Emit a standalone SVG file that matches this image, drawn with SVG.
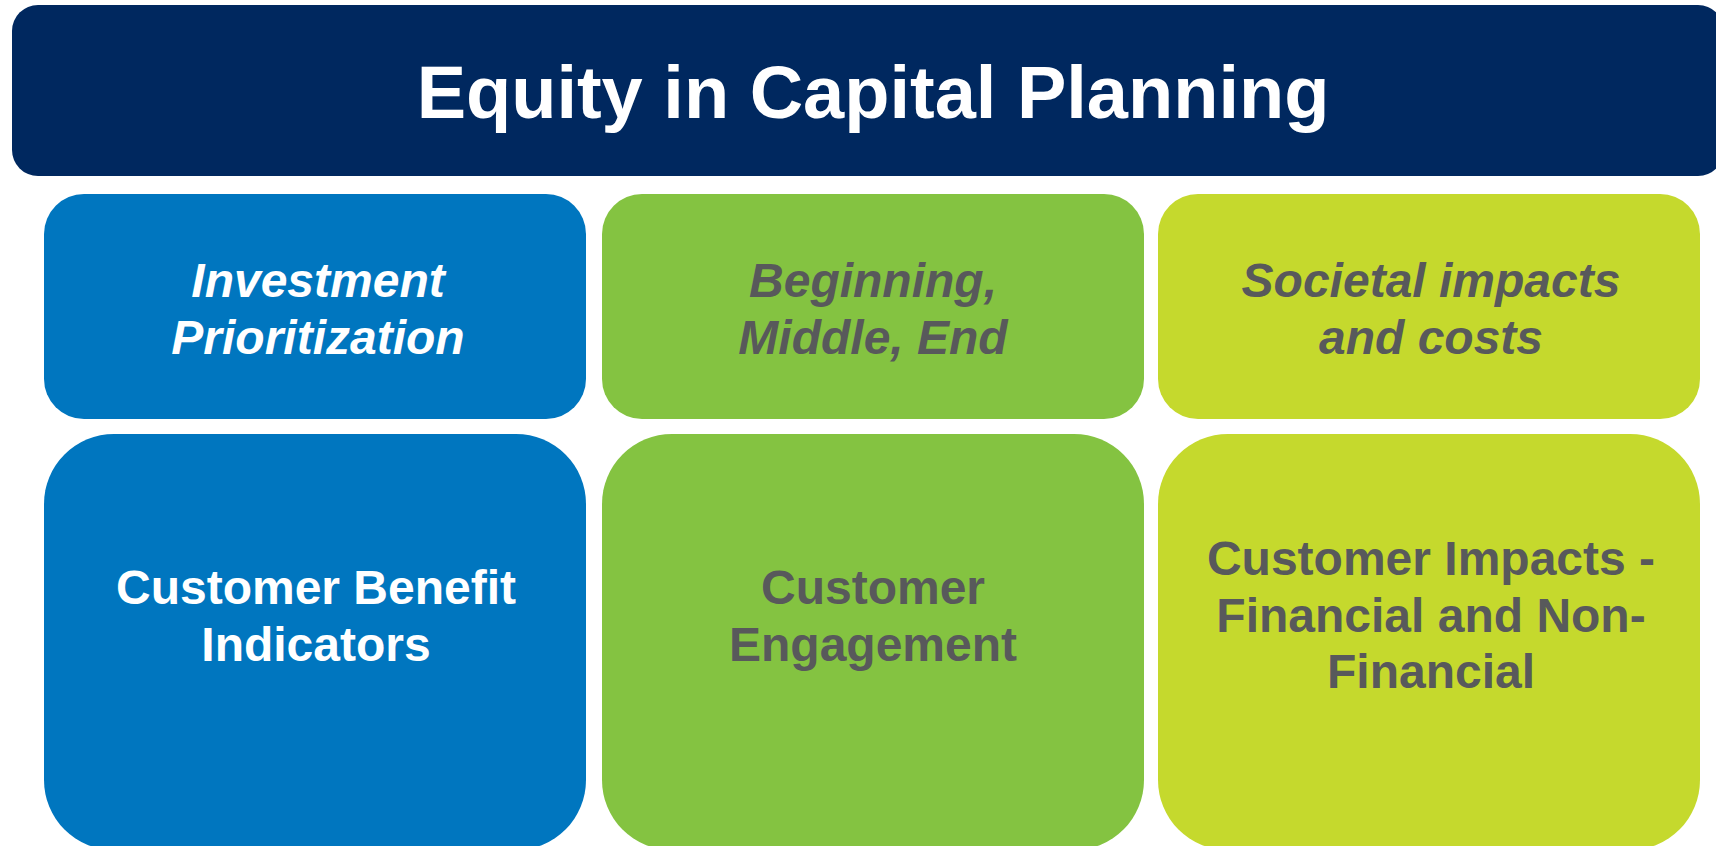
<svg xmlns="http://www.w3.org/2000/svg" width="1716" height="846" viewBox="0 0 1716 846">
<style>
text{font-family:"Liberation Sans",Arial,sans-serif;font-weight:bold;font-size:48px;text-anchor:middle}
.w{fill:#ffffff}
.g{fill:#58595b}
.i{font-style:italic}
.blue{fill:#0076bf}
.green{fill:#84c341}
.lime{fill:#c5d92d}
</style>
<rect width="1716" height="846" fill="#ffffff"/>
<g id="title">
<rect x="12" y="5" width="1712" height="171" rx="26" fill="#00285f"/>
<text x="873" y="118" class="w" style="font-size:74px">Equity in Capital Planning</text>
</g>
<g id="investment-prioritization">
<rect x="44" y="194" width="542" height="225" rx="40" class="blue"/>
<text x="318" y="297" class="w i">Investment</text>
<text x="318" y="354" class="w i">Prioritization</text>
</g>
<g id="beginning-middle-end">
<rect x="602" y="194" width="542" height="225" rx="40" class="green"/>
<text x="873" y="297" class="g i">Beginning,</text>
<text x="873" y="354" class="g i">Middle, End</text>
</g>
<g id="societal-impacts">
<rect x="1158" y="194" width="542" height="225" rx="40" class="lime"/>
<text x="1431" y="297" class="g i">Societal impacts</text>
<text x="1431" y="354" class="g i">and costs</text>
</g>
<g id="customer-benefit-indicators">
<rect x="44" y="434" width="542" height="416" rx="70" class="blue"/>
<text x="316" y="604" class="w">Customer Benefit</text>
<text x="316" y="661" class="w">Indicators</text>
</g>
<g id="customer-engagement">
<rect x="602" y="434" width="542" height="416" rx="70" class="green"/>
<text x="873" y="604" class="g">Customer</text>
<text x="873" y="661" class="g">Engagement</text>
</g>
<g id="customer-impacts">
<rect x="1158" y="434" width="542" height="416" rx="70" class="lime"/>
<text x="1431" y="575" class="g">Customer Impacts -</text>
<text x="1431" y="632" class="g">Financial and Non-</text>
<text x="1431" y="688" class="g">Financial</text>
</g>
<g id="connectors"></g>
</svg>
